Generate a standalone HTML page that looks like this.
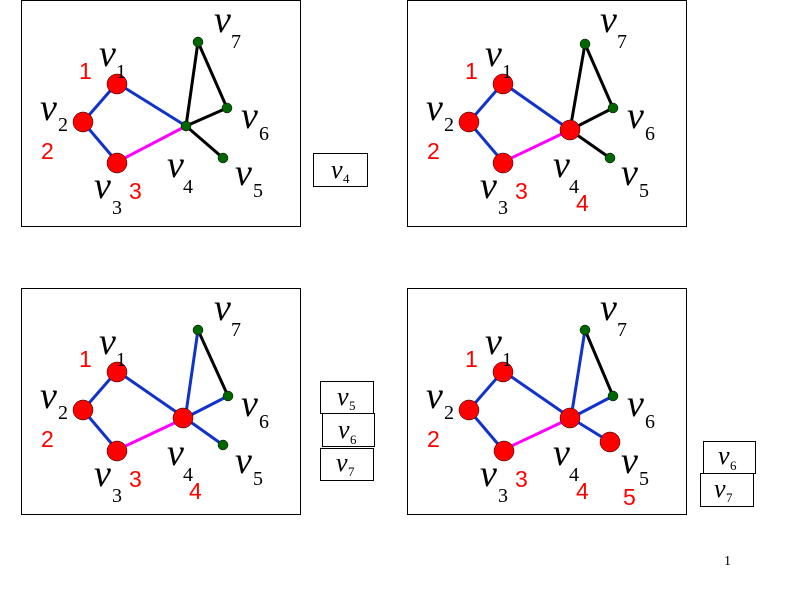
<!DOCTYPE html>
<html><head><style>html,body{margin:0;padding:0;background:#fff;}svg{display:block}</style></head>
<body>
<svg width="800" height="600" viewBox="0 0 800 600" xmlns="http://www.w3.org/2000/svg">
<defs>
<g id="labels" font-family="Liberation Serif, serif" font-style="italic" fill="#000">
  <text x="99" y="66" font-size="38">v</text><text x="116" y="78" font-size="20" font-style="normal">1</text>
  <text x="40" y="120" font-size="38">v</text><text x="58" y="131" font-size="20" font-style="normal">2</text>
  <text x="94" y="198" font-size="38">v</text><text x="112" y="214" font-size="20" font-style="normal">3</text>
  <text x="167" y="177" font-size="38">v</text><text x="183" y="193" font-size="20" font-style="normal">4</text>
  <text x="235" y="185" font-size="38">v</text><text x="253" y="197" font-size="20" font-style="normal">5</text>
  <text x="241" y="128" font-size="38">v</text><text x="259" y="140" font-size="20" font-style="normal">6</text>
  <text x="214" y="32" font-size="38">v</text><text x="231" y="48" font-size="20" font-style="normal">7</text>
  <g font-family="Liberation Sans, sans-serif" font-style="normal" font-size="23" fill="#f00">
    <text x="79" y="79">1</text><text x="41" y="159">2</text><text x="129" y="199">3</text>
  </g>
</g>
</defs>
<g fill="none" stroke="#000" stroke-width="1">
  <rect x="21.5" y="0.5" width="279" height="226"/>
  <rect x="407.5" y="0.5" width="279" height="226"/>
  <rect x="21.5" y="288.5" width="279" height="226"/>
  <rect x="407.5" y="288.5" width="279" height="226"/>
  <rect x="313.5" y="153.5" width="54" height="33"/>
  <rect x="320.5" y="381.5" width="53" height="32"/>
  <rect x="322.5" y="413.5" width="52" height="33"/>
  <rect x="320.5" y="448.5" width="53" height="32"/>
  <rect x="703.5" y="441.5" width="52" height="32"/>
  <rect x="700.5" y="473.5" width="53" height="33"/>
</g>
<g font-family="Liberation Serif, serif" font-style="italic">
  <text x="331" y="178" font-size="26">v</text><text x="343" y="183" font-size="13" font-style="normal">4</text>
  <text x="337" y="405" font-size="26">v</text><text x="349" y="410" font-size="13" font-style="normal">5</text>
  <text x="338" y="438" font-size="26">v</text><text x="350" y="444" font-size="13" font-style="normal">6</text>
  <text x="336" y="471" font-size="26">v</text><text x="348" y="476" font-size="13" font-style="normal">7</text>
  <text x="718" y="464" font-size="26">v</text><text x="730" y="470" font-size="13" font-style="normal">6</text>
  <text x="714" y="497" font-size="26">v</text><text x="726" y="502" font-size="13" font-style="normal">7</text>
</g>
<text x="724" y="565" font-family="Liberation Serif, serif" font-size="14">1</text>

<!-- Panel 1 -->
<g>
  <g stroke-width="3" stroke-linecap="round">
    <line x1="186" y1="126" x2="198" y2="42" stroke="#000"/>
    <line x1="198" y1="42" x2="227" y2="108" stroke="#000"/>
    <line x1="186" y1="126" x2="227" y2="108" stroke="#000"/>
    <line x1="186" y1="126" x2="223" y2="158" stroke="#000"/>
    <line x1="117" y1="83" x2="186" y2="126" stroke="#1133cc"/>
    <line x1="83" y1="122" x2="117" y2="83" stroke="#1133cc"/>
    <line x1="83" y1="122" x2="117" y2="162" stroke="#1133cc"/>
    <line x1="117" y1="162" x2="186" y2="126" stroke="#ff00ff"/>
  </g>
  <g fill="#f00" stroke="#000" stroke-width="0.5">
    <circle cx="117" cy="84" r="10"/><circle cx="83" cy="122" r="10"/><circle cx="117" cy="163" r="10"/>
  </g>
  <g fill="#006600" stroke="#000" stroke-width="0.5">
    <circle cx="186" cy="126" r="5"/><circle cx="223" cy="158" r="5"/><circle cx="227" cy="108" r="5"/><circle cx="198" cy="42" r="5"/>
  </g>
  <use href="#labels"/>
</g>

<!-- Panel 2 -->
<g transform="translate(386,0)">
  <g stroke-width="3" stroke-linecap="round">
    <line x1="184" y1="130" x2="199" y2="44" stroke="#000"/>
    <line x1="199" y1="44" x2="227" y2="108" stroke="#000"/>
    <line x1="184" y1="130" x2="227" y2="108" stroke="#000"/>
    <line x1="184" y1="130" x2="224" y2="158" stroke="#000"/>
    <line x1="117" y1="83" x2="184" y2="130" stroke="#1133cc"/>
    <line x1="83" y1="122" x2="117" y2="83" stroke="#1133cc"/>
    <line x1="83" y1="122" x2="117" y2="162" stroke="#1133cc"/>
    <line x1="117" y1="162" x2="184" y2="130" stroke="#ff00ff"/>
  </g>
  <g fill="#f00" stroke="#000" stroke-width="0.5">
    <circle cx="117" cy="84" r="10"/><circle cx="83" cy="122" r="10"/><circle cx="117" cy="163" r="10"/><circle cx="184" cy="130" r="10"/>
  </g>
  <g fill="#006600" stroke="#000" stroke-width="0.5">
    <circle cx="224" cy="158" r="5"/><circle cx="227" cy="108" r="5"/><circle cx="199" cy="44" r="5"/>
  </g>
  <use href="#labels"/>
  <text x="190" y="211" font-family="Liberation Sans, sans-serif" font-size="23" fill="#f00">4</text>
</g>

<!-- Panel 3 -->
<g transform="translate(0,288)">
  <g stroke-width="3" stroke-linecap="round">
    <line x1="198" y1="42" x2="228" y2="108" stroke="#000"/>
    <line x1="185" y1="132" x2="198" y2="42" stroke="#1133cc"/>
    <line x1="185" y1="130" x2="228" y2="108" stroke="#1133cc"/>
    <line x1="185" y1="130" x2="223" y2="157" stroke="#1133cc"/>
    <line x1="117" y1="83" x2="185" y2="130" stroke="#1133cc"/>
    <line x1="83" y1="122" x2="117" y2="83" stroke="#1133cc"/>
    <line x1="83" y1="122" x2="117" y2="162" stroke="#1133cc"/>
    <line x1="117" y1="162" x2="185" y2="130" stroke="#ff00ff"/>
  </g>
  <g fill="#f00" stroke="#000" stroke-width="0.5">
    <circle cx="117" cy="84" r="10"/><circle cx="83" cy="122" r="10"/><circle cx="117" cy="163" r="10"/><circle cx="183" cy="130" r="10"/>
  </g>
  <g fill="#006600" stroke="#000" stroke-width="0.5">
    <circle cx="223" cy="157" r="5"/><circle cx="228" cy="108" r="5"/><circle cx="198" cy="42" r="5"/>
  </g>
  <use href="#labels"/>
  <text x="189" y="211" font-family="Liberation Sans, sans-serif" font-size="23" fill="#f00">4</text>
</g>

<!-- Panel 4 -->
<g transform="translate(386,288)">
  <g stroke-width="3" stroke-linecap="round">
    <line x1="199" y1="42" x2="227" y2="108" stroke="#000"/>
    <line x1="185" y1="130" x2="199" y2="42" stroke="#1133cc"/>
    <line x1="185" y1="130" x2="227" y2="108" stroke="#1133cc"/>
    <line x1="185" y1="130" x2="224" y2="154" stroke="#1133cc"/>
    <line x1="117" y1="83" x2="185" y2="130" stroke="#1133cc"/>
    <line x1="83" y1="122" x2="117" y2="83" stroke="#1133cc"/>
    <line x1="83" y1="122" x2="117" y2="162" stroke="#1133cc"/>
    <line x1="117" y1="162" x2="185" y2="130" stroke="#ff00ff"/>
  </g>
  <g fill="#f00" stroke="#000" stroke-width="0.5">
    <circle cx="117" cy="84" r="10"/><circle cx="83" cy="122" r="10"/><circle cx="118" cy="163" r="10"/><circle cx="184" cy="130" r="10"/><circle cx="224" cy="154" r="10"/>
  </g>
  <g fill="#006600" stroke="#000" stroke-width="0.5">
    <circle cx="227" cy="108" r="5"/><circle cx="199" cy="42" r="5"/>
  </g>
  <use href="#labels"/>
  <text x="190" y="211" font-family="Liberation Sans, sans-serif" font-size="23" fill="#f00">4</text>
  <text x="237" y="217" font-family="Liberation Sans, sans-serif" font-size="23" fill="#f00">5</text>
</g>
</svg>
</body></html>
